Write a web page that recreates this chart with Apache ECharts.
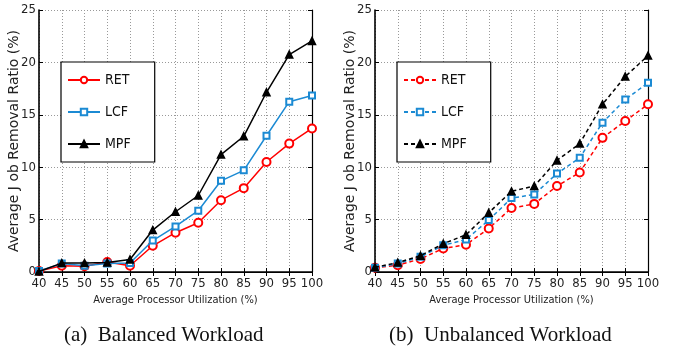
<!DOCTYPE html>
<html><head><meta charset="utf-8">
<script src="https://cdn.jsdelivr.net/npm/echarts@6/dist/echarts.min.js"></script>
<style>html,body{margin:0;padding:0;background:#fff}#c{width:673px;height:349px}</style>
</head><body><div id="c"></div>
<script>
const utilization = [40,45,50,55,60,65,70,75,80,85,90,95,100];
const yTicks = [0,5,10,15,20,25];
const balancedRET = [0.1,0.6,0.55,0.95,0.6,2.5,3.75,4.7,6.85,8.0,10.5,12.25,13.7];
const balancedLCF = [0.1,0.8,0.6,0.8,0.85,3.0,4.35,5.85,8.7,9.7,13.0,16.25,16.85];
const balancedMPF = [0.05,0.85,0.85,0.9,1.2,4.0,5.75,7.3,11.2,12.95,17.15,20.75,22.05];
const unbalancedRET = [0.4,0.65,1.25,2.25,2.6,4.15,6.1,6.5,8.2,9.5,12.8,14.4,16.0];
const unbalancedLCF = [0.4,0.8,1.45,2.55,3.1,4.95,7.05,7.4,9.4,10.9,14.25,16.45,18.05];
const unbalancedMPF = [0.45,0.9,1.55,2.7,3.55,5.65,7.7,8.2,10.65,12.25,16.0,18.65,20.65];
const captions = ['(a)  Balanced Workload', '(b)  Unbalanced Workload'];
const xName = 'Average Processor Utilization (%)';
const yName = 'Average J ob Removal Ratio (%)';

const NARROW = "'Liberation Sans Narrow','DejaVu Sans Condensed',sans-serif";
const colors = {RET:'#ff0000', LCF:'#1b8ad3', MPF:'#000000'};
const symbols = {RET:['emptyCircle',8], LCF:['emptyRect',6], MPF:['triangle',7]};

const grids = [{left:39, top:10, width:273, height:262}, {left:375, top:10, width:273, height:262}];
const xAxes = [], yAxes = [];
grids.forEach((g, i) => {
  xAxes.push({gridIndex:i, type:'value', min:40, max:100, interval:5,
    name:xName, nameLocation:'middle', nameGap:23, nameMoveOverlap:false,
    nameTextStyle:{fontFamily:NARROW, fontSize:11, color:'#222'},
    axisLine:{lineStyle:{color:'#000', width:1.6}},
    axisTick:{inside:true, length:4, lineStyle:{color:'#000'}},
    axisLabel:{fontFamily:NARROW, fontSize:13, color:'#222', margin:5, formatter: v => utilization.includes(v) ? String(v) : ''},
    splitLine:{show:true, lineStyle:{type:[1,2], color:'#999', width:1}}});
  xAxes.push({gridIndex:i, type:'value', min:40, max:100, interval:5, position:'top',
    axisLine:{show:true, lineStyle:{color:'#000', width:1.2}},
    axisTick:{show:true, inside:true, length:4, lineStyle:{color:'#000'}},
    axisLabel:{show:false}, splitLine:{show:false}});
  yAxes.push({gridIndex:i, type:'value', min:0, max:25, interval:5,
    name:yName, nameLocation:'middle', nameGap:18, nameMoveOverlap:false,
    nameTextStyle:{fontFamily:"'DejaVu Sans',sans-serif", fontSize:14, color:'#222'},
    axisLine:{show:true, lineStyle:{color:'#000', width:1.6}},
    axisTick:{show:true, inside:true, length:4, lineStyle:{color:'#000'}},
    axisLabel:{fontFamily:NARROW, fontSize:13, color:'#222', margin:3, formatter: v => yTicks.includes(v) ? String(v) : ''},
    splitLine:{show:true, lineStyle:{type:[1,2], color:'#999', width:1}}});
  yAxes.push({gridIndex:i, type:'value', min:0, max:25, interval:5, position:'right',
    axisLine:{show:true, lineStyle:{color:'#000', width:1.2}},
    axisTick:{show:true, inside:true, length:4, lineStyle:{color:'#000'}},
    axisLabel:{show:false}, splitLine:{show:false}});
});

function mk(name, key, vals, gi, dashed) {
  return {
    name, type:'line', xAxisIndex:gi*2, yAxisIndex:gi*2, clip:false,
    data: utilization.map((x, k) => [x, vals[k]]),
    symbol: symbols[key][0], symbolSize: symbols[key][1],
    lineStyle:{color:colors[key], width:1.5, type: dashed ? [4,3] : 'solid'},
    itemStyle:{color:colors[key], borderColor:colors[key], borderWidth:1.5},
    emphasis:{disabled:true}, animation:false, z: key==='MPF'?3:(key==='LCF'?2:1)
  };
}
const series = [
  mk('RET','RET',balancedRET,0,false), mk('LCF','LCF',balancedLCF,0,false), mk('MPF','MPF',balancedMPF,0,false),
  mk('RET ','RET',unbalancedRET,1,true), mk('LCF ','LCF',unbalancedLCF,1,true), mk('MPF ','MPF',unbalancedMPF,1,true)
];

function legend(left, names) {
  return {left, top:62, orient:'vertical', data:names, selectedMode:false,
    backgroundColor:'#fff', borderColor:'#000', borderWidth:1.2, padding:[11,24,11,6],
    itemWidth:32, itemHeight:8, itemGap:18,
    formatter: n => n.trim(),
    textStyle:{fontFamily:NARROW, fontSize:14, color:'#111'}};
}

const chart = echarts.init(document.getElementById('c'), null, {renderer:'canvas'});
chart.setOption({
  animation:false,
  grid: grids,
  xAxis: xAxes, yAxis: yAxes, series,
  legend:[legend(61, ['RET','LCF','MPF']), legend(397, ['RET ','LCF ','MPF '])],
  graphic:[
    {type:'text', left:64, top:325, style:{text:captions[0], font:"21px 'Liberation Serif',serif", fill:'#111'}},
    {type:'text', left:389, top:325, style:{text:captions[1], font:"21px 'Liberation Serif',serif", fill:'#111'}}
  ]
});
</script></body></html>
